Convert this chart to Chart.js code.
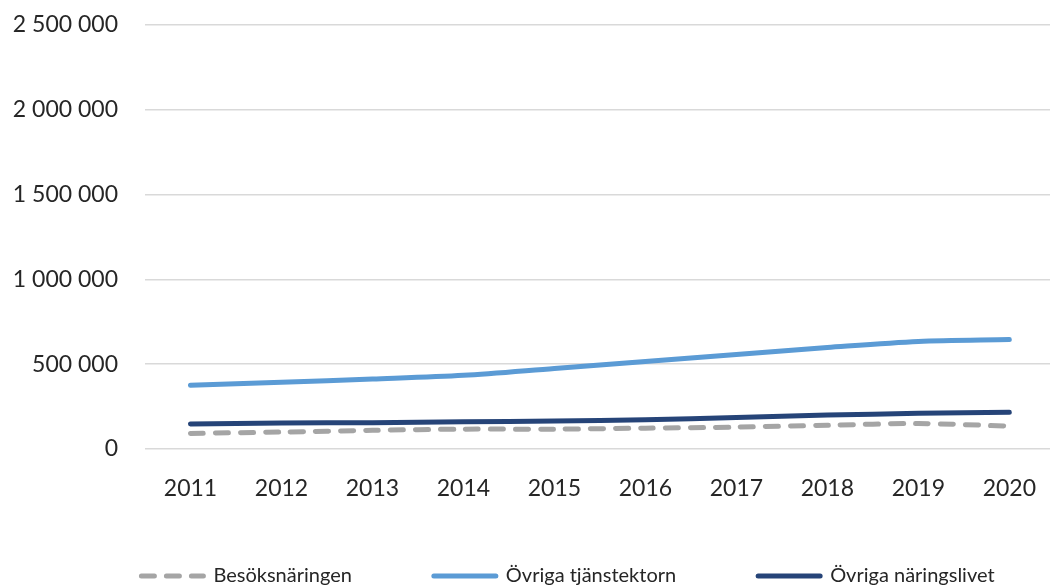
<!DOCTYPE html>
<html>
<head>
<meta charset="utf-8">
<script src="https://cdn.jsdelivr.net/npm/chart.js@4"></script>
<style>
  html, body { margin: 0; padding: 0; background: #fff; overflow: hidden; }
  #wrap { position: absolute; left: 0; top: -16px; width: 1062px; height: 614px; }
</style>
</head>
<body>
<div id="wrap"><canvas id="myChart"></canvas></div>
<script>
const years = ["2011", "2012", "2013", "2014", "2015", "2016", "2017", "2018", "2019", "2020"];
const besoksnaringen = [92000, 100000, 110000, 117000, 117000, 123000, 129000, 140000, 150000, 135000];
const tjanstesektorn = [375000, 393000, 412000, 434000, 475000, 516000, 557000, 598000, 634000, 645000];
const naringslivet = [147000, 153000, 155000, 160000, 165000, 172000, 186000, 200000, 210000, 217000];

const fontFamily = "Lato, 'Open Sans', sans-serif";

function formatNumber(v) {
    return String(v).replace(/\B(?=(\d{3})+(?!\d))/g, " ");
}

// the legend needs wide gaps between items but little height,
// so shrink its box and move it where Excel puts it
const legendPlace = {
    id: 'legendPlace',
    afterInit(chart) {
        const legend = chart.legend;
        const origFit = legend.fit;
        legend.fit = function () {
            origFit.call(this);
            this.height = 30;
        };
    },
    afterLayout(chart) {
        const legend = chart.legend;
        legend.top = 500;
        legend.left += 37;
        legend.right += 37;
    }
};

const ctx = document.getElementById('myChart').getContext('2d');
const myChart = new Chart(ctx, {
    type: 'line',
    data: {
        labels: years,
        datasets: [
            {
                label: "Besöksnäringen",
                data: besoksnaringen,
                borderColor: '#A5A5A5',
                backgroundColor: '#A5A5A5',
                borderWidth: 5,
                borderDash: [13, 12],
                borderCapStyle: 'round',
                tension: 0.3,
                pointRadius: 0
            },
            {
                label: "Övriga tjänstektorn",
                data: tjanstesektorn,
                borderColor: '#5B9BD5',
                backgroundColor: '#5B9BD5',
                borderWidth: 5,
                borderCapStyle: 'round',
                tension: 0.3,
                pointRadius: 0
            },
            {
                label: "Övriga näringslivet",
                data: naringslivet,
                borderColor: '#264478',
                backgroundColor: '#264478',
                borderWidth: 5,
                borderCapStyle: 'round',
                tension: 0.3,
                pointRadius: 0
            }
        ]
    },
    options: {
        responsive: true,
        maintainAspectRatio: false,
        animation: false,
        layout: { padding: { top: 0, left: 0, right: 0, bottom: 2 } },
        plugins: {
            tooltip: { enabled: false },
            legend: {
                display: true,
                position: 'bottom',
                labels: {
                    usePointStyle: true,
                    pointStyle: 'line',
                    pointStyleWidth: 62,
                    padding: 82,
                    color: '#262626',
                    font: { family: fontFamily, size: 20 },
                    // point style items lose the dataset dash, put it back
                    generateLabels: function (chart) {
                        const items = Chart.defaults.plugins.legend.labels.generateLabels(chart);
                        items.forEach(item => {
                            const ds = chart.data.datasets[item.datasetIndex];
                            item.strokeStyle = ds.borderColor;
                            item.lineWidth = 5;
                            item.lineCap = 'round';
                            item.lineDash = ds.borderDash || [];
                        });
                        return items;
                    }
                }
            }
        },
        scales: {
            x: {
                offset: true,
                grid: { display: false, drawTicks: false },
                border: { display: false },
                ticks: {
                    color: '#262626',
                    padding: 26,
                    font: { family: fontFamily, size: 23 }
                },
                afterFit: function (scale) {
                    scale.height = 117;
                }
            },
            y: {
                min: 0,
                max: 2500000,
                border: { display: false },
                grid: { color: '#D9D9D9', lineWidth: 1.5, drawTicks: false },
                ticks: {
                    stepSize: 500000,
                    color: '#262626',
                    padding: 27,
                    font: { family: fontFamily, size: 23 },
                    callback: function (value) { return formatNumber(value); }
                },
                afterFit: function (scale) {
                    scale.width = 145;
                }
            }
        }
    },
    plugins: [legendPlace]
});
</script>
</body>
</html>
